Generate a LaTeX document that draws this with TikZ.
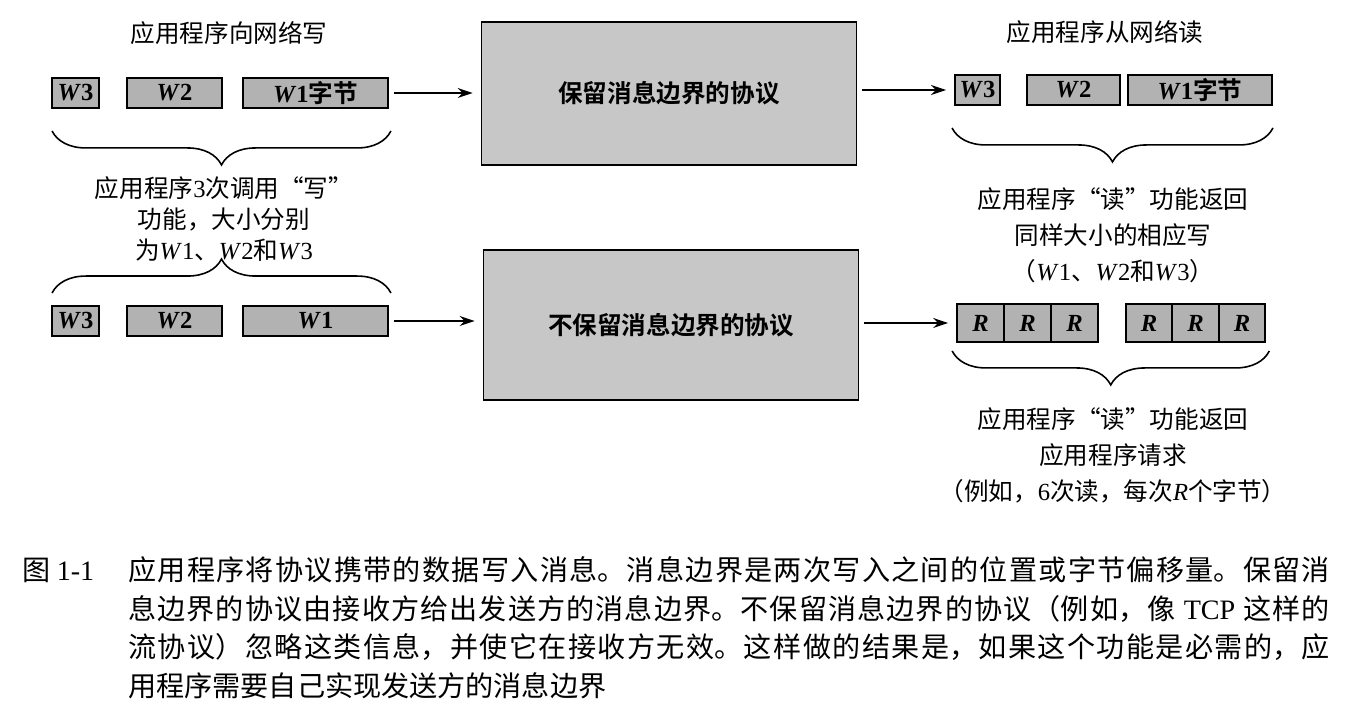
\documentclass[tikz,border=0pt]{standalone}
\usepackage{fontspec}
\setmainfont{Liberation Serif}
\newfontfamily\cjk{Noto Sans CJK SC}[BoldFont={Noto Sans CJK SC Bold}]
\usepackage{tikz}
\usetikzlibrary{arrows.meta, positioning, calc, decorations.pathreplacing}
\XeTeXlinebreaklocale "zh"
\XeTeXlinebreakskip=0pt plus 1pt

\newcommand{\wv}[1]{{\rmfamily\textit{W}#1}}
\newcommand{\bw}[1]{{\rmfamily\bfseries\textit{W}#1}}
\newcommand{\rv}{{\rmfamily\bfseries\textit{R}}}

\tikzset{
  msgbox/.style={draw, line width=1.1pt, fill=black!30, minimum height=0.6cm, inner sep=0pt,
    font=\cjk\bfseries\fontsize{14}{16}\selectfont},
  rbox/.style={msgbox, minimum width=0.935cm, minimum height=0.76cm},
  protobox/.style={draw, line width=1pt, fill=black!22, minimum width=7.5cm,
    font=\cjk\bfseries\fontsize{14}{16}\selectfont},
  flow/.style={-{Stealth[length=0.3cm,width=0.2cm]}, line width=0.9pt,
    shorten <=0.1cm, shorten >=0.16cm},
  brc/.style={decorate, decoration={brace, amplitude=0.68cm}, line width=0.9pt},
  lbl/.style={font=\cjk\fontsize{14}{17.6}\selectfont, align=center, inner sep=0pt},
  capline/.style={anchor=west, inner sep=0pt, text width=24.04cm, align=justify,
    font=\cjk\fontsize{16}{22}\selectfont}
}

\begin{document}
\begin{tikzpicture}[x=0.02cm, y=-0.02cm]
  \useasboundingbox (0,0) rectangle (1350,726);

  % Headings
  \node[lbl] (hw) at (229,33) {应用程序向网络写};
  \node[lbl] (hr) at (1105,32) {应用程序从网络读};

  % Sender side, upper row
  \node[msgbox, minimum width=0.94cm] (w3a) at (75.5,93) {\bw{3}};
  \node[msgbox, minimum width=1.9cm] (w2a) at (174.5,93) {\bw{2}};
  \node[msgbox, minimum width=2.9cm] (w1a) at (315.5,93) {\bw{1}字节};
  % Sender side, lower row
  \node[msgbox, minimum width=0.94cm] (w3b) at (75.5,321) {\bw{3}};
  \node[msgbox, minimum width=1.9cm] (w2b) at (174.5,321) {\bw{2}};
  \node[msgbox, minimum width=2.9cm] (w1b) at (315.5,321) {\bw{1}};

  % Protocols
  \node[protobox, minimum height=2.86cm] (keep) at (669,93.5) {保留消息边界的协议};
  \node[protobox, minimum height=3cm] (nokeep) at (671,325) {不保留消息边界的协议};

  % Receiver side, upper row
  \node[msgbox, minimum width=0.9cm] (w3c) at (977.5,90) {\bw{3}};
  \node[msgbox, minimum width=1.86cm] (w2c) at (1073.5,90) {\bw{2}};
  \node[msgbox, minimum width=2.88cm] (w1c) at (1200,90) {\bw{1}字节};
  % Receiver side, six reads of R bytes
  \foreach \x [count=\i] in {980.5,1027.5,1074.5,1149,1195.5,1242}
    \node[rbox] (r\i) at (\x,323) {\rv};

  % Arrows
  \draw[flow] (w1a.east) -- (w1a.east -| keep.west);
  \draw[flow] (keep.east |- w3c) -- (w3c.west);
  \draw[flow] (w1b.east) -- (w1b.east -| nokeep.west);
  \draw[flow] (nokeep.east |- r1) -- (r1.west);

  % Braces
  \draw[brc] ($(w1a.south east)+(2,22)$) -- ($(w3a.south west)+(1,22)$);
  \draw[brc] ($(w3b.north west)+(1,-12)$) -- ($(w1b.north east)+(2,-12)$);
  \draw[brc] ($(w1c.south east)+(0,22)$) -- ($(w3c.south west)+(-2,22)$);
  \draw[brc] ($(r6.south east)+(3,8)$) -- ($(r1.south west)+(-4,8)$);

  % Brace labels
  \node[lbl] (wcall) at (224,219) {应用程序{\rmfamily 3}次调用“写”\\功能，大小分别\\为\wv{1}、\wv{2}和\wv{3}};
  \node[lbl, font=\cjk\fontsize{14}{20.5}\selectfont] (rsame) at (1113,235)
    {应用程序“读”功能返回\\同样大小的相应写\\（\wv{1}、\wv{2}和\wv{3}）};
  \node[lbl, font=\cjk\fontsize{14}{20.5}\selectfont] (rreq) at (1113,455)
    {应用程序“读”功能返回\\应用程序请求\\（例如，{\rmfamily 6}次读，每次{\rmfamily\textit{R}}个字节）};

  % Caption, one node per printed line
  \node[anchor=west, inner sep=0pt, font=\cjk\fontsize{16}{22}\selectfont] (fig) at (22,570) {图 {\rmfamily 1-1}};
  \node[capline] (cap1) at (128,570)
    {\parfillskip=0pt 应用程序将协议携带的数据写入消息。消息边界是两次写入之间的位置或字节偏移量。保留消\par};
  \node[capline] (cap2) at (128,609)
    {\parfillskip=0pt 息边界的协议由接收方给出发送方的消息边界。不保留消息边界的协议（例如，像 {\rmfamily TCP} 这样的\par};
  \node[capline] (cap3) at (128,647)
    {\parfillskip=0pt 流协议）忽略这类信息，并使它在接收方无效。这样做的结果是，如果这个功能是必需的，应\par};
  \node[capline] (cap4) at (128,686) {用程序需要自己实现发送方的消息边界};
\end{tikzpicture}
\end{document}
